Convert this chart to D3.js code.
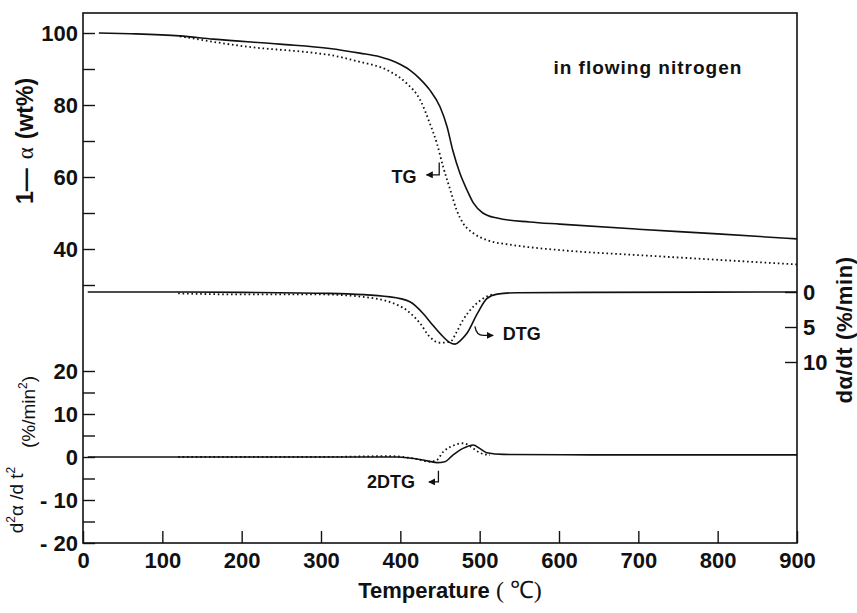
<!DOCTYPE html>
<html>
<head>
<meta charset="utf-8">
<script src="https://cdn.jsdelivr.net/npm/d3@7"></script>
<style>
  body { margin: 0; background: #fff; }
  svg { display: block; font-family: "Liberation Sans", Arial, sans-serif; }
  .tick text { font-size: 22px; font-weight: bold; fill: #111; }
  .tick line { stroke: #111; stroke-width: 1.4; }
</style>
</head>
<body>
<svg width="857" height="613"></svg>
<script>
// values, temperatures in deg C

// TG, 1 - alpha (wt%)
const tgSolidT = [20, 60, 122, 164, 248, 311, 349, 374, 395, 412, 425, 437, 450, 459, 466, 475, 484, 492, 504, 522, 563, 601, 700, 800, 900];
const tgSolidV = [100, 99.8, 99.2, 98.3, 96.9, 95.7, 94.4, 93.4, 91.8, 89.7, 87.2, 84.2, 79.5, 73.9, 67.5, 61.1, 56.4, 52.8, 50.0, 48.6, 47.5, 46.9, 45.5, 44.2, 42.8];
const tgDotT = [122, 207, 290, 311, 345, 387, 408, 425, 437, 446, 454, 463, 471, 479, 492, 509, 542, 601, 700, 800, 900];
const tgDotV = [99.1, 96.2, 94.5, 93.9, 92.2, 89.3, 86.0, 81.4, 75.0, 69.4, 62.8, 56.4, 50.8, 47.2, 44.4, 42.5, 41.1, 39.7, 38.3, 37.0, 35.7];

// DTG, d alpha / dt (%/min), plotted downward
const dtgSolidT = [6, 100, 200, 311, 387, 412, 429, 441, 454, 462, 469, 476, 484, 497, 509, 522, 547, 640, 900];
const dtgSolidV = [0, 0, 0.05, 0.2, 0.7, 1.4, 3.1, 4.75, 6.4, 7.2, 7.45, 6.9, 5.9, 3.1, 0.95, 0.3, 0.1, 0.05, 0];
const dtgDotT = [120, 200, 300, 353, 387, 408, 425, 437, 450, 463, 471, 479, 492, 504, 517];
const dtgDotV = [0.2, 0.35, 0.35, 0.7, 1.45, 2.6, 4.5, 6.4, 7.25, 7.1, 5.7, 4.0, 2.1, 0.95, 0.3];

// 2DTG, d2 alpha / dt2 (%/min2)
const d2SolidT = [6, 200, 396, 429, 446, 456, 466, 479, 492, 500, 509, 530, 640, 900];
const d2SolidV = [0, 0, 0, -0.7, -1.3, -1.1, 0.4, 2.0, 2.8, 2.0, 1.0, 0.6, 0.5, 0.5];
const d2DotT = [120, 300, 387, 421, 437, 446, 454, 466, 479, 492, 500, 513];
const d2DotV = [0, 0, 0.2, -0.5, -1.1, -0.7, 1.2, 2.6, 3.2, 2.0, 1.0, 0.45];

// ticks
const tempTicks = [0, 100, 200, 300, 400, 500, 600, 700, 800, 900];
const tgTicks = [30, 40, 50, 60, 70, 80, 90, 100];
const tgLabels = [40, 60, 80, 100];
const dtgTicks = [0, 5, 10];
const d2Ticks = [-20, -15, -10, -5, 0, 5, 10, 15, 20];
const d2Labels = [-20, -10, 0, 10, 20];

let padLeft = 83, padRight = 797, padTop = 13, padBottom = 543;
let svg = d3.select("svg");

let x = d3.scaleLinear().domain([0, 900]).range([padLeft, padRight]);
let yTG = d3.scaleLinear().domain([30, 100]).range([285, 33]);
let yDTG = d3.scaleLinear().domain([0, 10]).range([292, 362]);
let yD2 = d3.scaleLinear().domain([-20, 20]).range([padBottom, 371]);

// arrowhead for the annotation hooks
svg.append("defs").append("marker")
  .attr("id", "head")
  .attr("viewBox", "0 0 10 10")
  .attr("refX", 9).attr("refY", 5)
  .attr("markerWidth", 7).attr("markerHeight", 7)
  .attr("markerUnits", "userSpaceOnUse")
  .attr("orient", "auto")
  .append("path").attr("d", "M0,0 L10,5 L0,10 z").attr("fill", "#111");

// axes, ticks pointing inward
svg.append("g")
  .attr("transform", "translate(" + padLeft + ",0)")
  .call(d3.axisLeft(yTG).tickValues(tgTicks).tickSize(-12).tickPadding(5)
    .tickFormat((d) => (tgLabels.includes(d) ? d : "")))
  .call((g) => g.select(".domain").remove());

svg.append("g")
  .attr("transform", "translate(" + padLeft + ",0)")
  .call(d3.axisLeft(yD2).tickValues(d2Ticks).tickSize(-12).tickPadding(5)
    .tickFormat((d) => (d2Labels.includes(d) ? (d < 0 ? "- " + -d : d) : "")))
  .call((g) => g.select(".domain").remove());

svg.append("g")
  .attr("transform", "translate(" + padRight + ",0)")
  .call(d3.axisRight(yDTG).tickValues(dtgTicks).tickSize(-12).tickPadding(6))
  .call((g) => g.select(".domain").remove());

svg.append("g")
  .attr("transform", "translate(0," + padBottom + ")")
  .call(d3.axisBottom(x).tickValues(tempTicks).tickSize(-12).tickPadding(9))
  .call((g) => g.select(".domain").remove());

// frame
svg.append("rect")
  .attr("x", padLeft).attr("y", padTop)
  .attr("width", padRight - padLeft).attr("height", padBottom - padTop)
  .attr("fill", "none").attr("stroke", "#111").attr("stroke-width", 1.6);

// curves
function drawCurve(ts, vs, yScale, dotted) {
  let pts = ts.map((t, i) => [t, vs[i]]);
  let line = d3.line()
    .x((d) => x(d[0]))
    .y((d) => yScale(d[1]))
    .curve(d3.curveMonotoneX);
  svg.append("path")
    .datum(pts)
    .attr("d", line)
    .attr("fill", "none")
    .attr("stroke", "#111")
    .attr("stroke-width", dotted ? 1.8 : 1.6)
    .attr("stroke-dasharray", dotted ? "1.6 2.8" : null);
}

drawCurve(tgSolidT, tgSolidV, yTG, false);
drawCurve(tgDotT, tgDotV, yTG, true);
drawCurve(dtgSolidT, dtgSolidV, yDTG, false);
drawCurve(dtgDotT, dtgDotV, yDTG, true);
drawCurve(d2SolidT, d2SolidV, yD2, false);
drawCurve(d2DotT, d2DotV, yD2, true);

// annotations
function label(txt, px, py, size, anchor) {
  return svg.append("text")
    .attr("x", px).attr("y", py)
    .attr("text-anchor", anchor || "start")
    .attr("font-size", size).attr("font-weight", "bold")
    .attr("fill", "#111")
    .text(txt);
}

label("in flowing nitrogen", x(593), yTG(88.6), 19).attr("letter-spacing", 1);

label("TG", x(389), yTG(58.3), 18);
svg.append("path")
  .attr("d", "M" + x(449) + "," + yTG(64) + " V" + yTG(60.6) + " H" + x(433))
  .attr("fill", "none").attr("stroke", "#111").attr("stroke-width", 1.3)
  .attr("marker-end", "url(#head)");

label("DTG", x(529), yDTG(6.85), 18);
svg.append("path")
  .attr("d", "M" + x(494) + "," + yDTG(4.9) + " Q" + x(496) + "," + yDTG(6.3) + " " + x(506) + "," + yDTG(6.2) + " L" + x(517) + "," + yDTG(6.2))
  .attr("fill", "none").attr("stroke", "#111").attr("stroke-width", 1.3)
  .attr("marker-end", "url(#head)");

label("2DTG", x(358), yD2(-7.2), 18);
svg.append("path")
  .attr("d", "M" + x(448) + "," + yD2(-3.2) + " V" + yD2(-5.8) + " H" + x(436))
  .attr("fill", "none").attr("stroke", "#111").attr("stroke-width", 1.3)
  .attr("marker-end", "url(#head)");

// axis titles
let tgTitle = svg.append("text")
  .attr("transform", "translate(33,141) rotate(-90)")
  .attr("text-anchor", "middle")
  .attr("font-size", 23).attr("font-weight", "bold").attr("fill", "#111");
tgTitle.append("tspan").text("1—");
tgTitle.append("tspan").attr("dx", 9).attr("font-family", "Liberation Serif")
  .attr("font-weight", "normal").text("α");
tgTitle.append("tspan").attr("dx", 8).text("(wt%)");

let d2Title = svg.append("text")
  .attr("transform", "translate(23,500) rotate(-90)")
  .attr("text-anchor", "middle")
  .attr("font-size", 19).attr("fill", "#111");
d2Title.append("tspan").text("d");
d2Title.append("tspan").attr("font-size", 12).attr("dy", -8).text("2");
d2Title.append("tspan").attr("dy", 8).text("α /d t");
d2Title.append("tspan").attr("font-size", 12).attr("dy", -8).text("2");

let d2Unit = svg.append("text")
  .attr("transform", "translate(35,412) rotate(-90)")
  .attr("text-anchor", "middle")
  .attr("font-size", 19).attr("fill", "#111");
d2Unit.append("tspan").text("(%/min");
d2Unit.append("tspan").attr("font-size", 12).attr("dy", -8).text("2");
d2Unit.append("tspan").attr("dy", 8).text(")");

svg.append("text")
  .attr("transform", "translate(852,330) rotate(-90)")
  .attr("text-anchor", "middle")
  .attr("font-size", 22).attr("font-weight", "bold").attr("fill", "#111")
  .attr("letter-spacing", 0.6)
  .text("dα/dt (%/min)");

let tTitle = svg.append("text")
  .attr("x", 450).attr("y", 598)
  .attr("text-anchor", "middle")
  .attr("font-size", 22).attr("font-weight", "bold").attr("fill", "#111");
tTitle.append("tspan").text("Temperature ");
tTitle.append("tspan").attr("font-family", "Liberation Serif").attr("font-weight", "normal")
  .attr("font-size", 24).text("( ℃)");
</script>
</body>
</html>
